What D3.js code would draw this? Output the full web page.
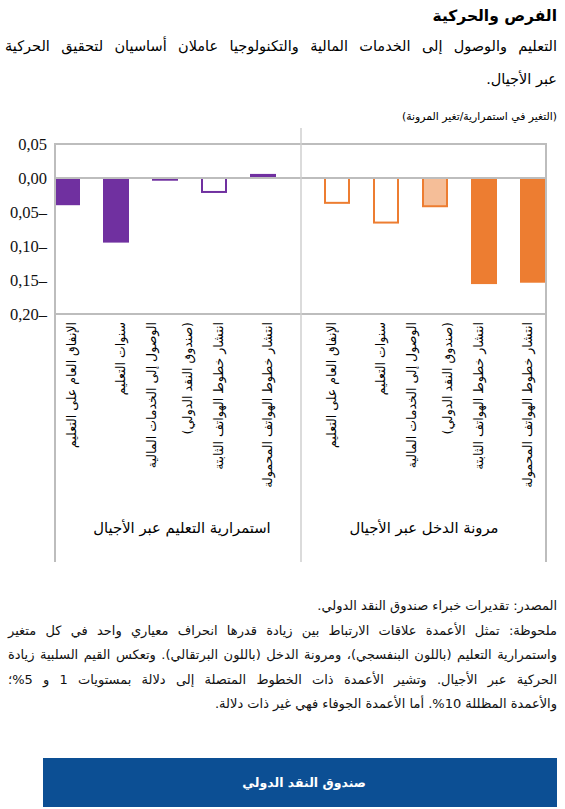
<!DOCTYPE html>
<html lang="ar">
<head>
<meta charset="utf-8">
<script src="https://cdn.jsdelivr.net/npm/d3@7"></script>
<style>
  body { margin: 0; background: #fff; }
  #wrap { position: relative; width: 565px; height: 809px; overflow: hidden; }
  svg { position: absolute; left: 0; top: 0; }
  .notes { position: absolute; left: 8px; width: 549px; direction: rtl;
           font-family: "DejaVu Sans", sans-serif; font-size: 13px; color: #111; }
  .notes div { height: 24.5px; line-height: 24.5px; white-space: nowrap; }
  .notes .just { text-align: justify; text-align-last: justify; white-space: normal; }
</style>
</head>
<body>
<div id="wrap"></div>
<script>
// chart values
const categories = [
  ["الإنفاق العام على التعليم"],
  ["سنوات التعليم"],
  ["الوصول إلى الخدمات المالية", "(صندوق النقد الدولي)"],
  ["انتشار خطوط الهواتف الثابتة"],
  ["انتشار خطوط الهواتف المحمولة"]
];
const panelTitles = ["استمرارية التعليم عبر الأجيال", "مرونة الدخل عبر الأجيال"];
const persistenceValues = [-0.040, -0.095, -0.004, -0.022, 0.006];
const persistenceSig = ["solid", "solid", "solid", "hollow", "solid"];
const elasticityValues = [-0.038, -0.067, -0.043, -0.156, -0.154];
const elasticitySig = ["hollow", "hollow", "shaded", "solid", "solid"];
const yTicks = [0.05, 0, -0.05, -0.10, -0.15, -0.20];

const title = "الفرص والحركية";
const subtitle = ["التعليم والوصول إلى الخدمات المالية والتكنولوجيا عاملان أساسيان لتحقيق الحركية",
                  "عبر الأجيال."];
const unitNote = "(التغير في استمرارية/تغير المرونة)";
const noteLines = [
  "المصدر: تقديرات خبراء صندوق النقد الدولي.",
  "ملحوظة: تمثل الأعمدة علاقات الارتباط بين زيادة قدرها انحراف معياري واحد في كل متغير",
  "واستمرارية التعليم (باللون البنفسجي)، ومرونة الدخل (باللون البرتقالي). وتعكس القيم السلبية زيادة",
  "الحركية عبر الأجيال. وتشير الأعمدة ذات الخطوط المتصلة إلى دلالة بمستويات 1 و 5%؛",
  "والأعمدة المظللة 10%. أما الأعمدة الجوفاء فهي غير ذات دلالة."
];
const footerText = "صندوق النقد الدولي";

const arabicFont = "'DejaVu Sans', sans-serif";
const numFont = "'Liberation Serif', serif";
const grey = "#bdbdbd";

const wrap = d3.select("#wrap");
const svg = wrap.append("svg").attr("width", 565).attr("height", 809);

// header texts
svg.append("text")
  .attr("x", 557).attr("y", 21)
  .attr("direction", "rtl").attr("text-anchor", "start")
  .attr("font-family", arabicFont).attr("font-size", 15.5).attr("font-weight", "bold")
  .text(title);

svg.selectAll("text.sub")
  .data(subtitle)
  .enter().append("text")
  .attr("class", "sub")
  .attr("x", 557).attr("y", (d, i) => 51 + i * 33)
  .attr("direction", "rtl").attr("text-anchor", "start")
  .attr("font-family", arabicFont).attr("font-size", 14.5)
  .text(d => d)
  .each(function(d, i) {
    // first line is justified to the full width
    if (i === 0) {
      const len = this.getComputedTextLength();
      const gaps = d.split(" ").length - 1;
      d3.select(this).attr("word-spacing", (552 - len) / gaps);
    }
  });

svg.append("text")
  .attr("x", 557).attr("y", 120)
  .attr("direction", "rtl").attr("text-anchor", "start")
  .attr("font-family", arabicFont).attr("font-size", 10.8)
  .text(unitNote);

// plot geometry
const plotLeft = 55, plotRight = 546, plotMid = 301, plotTop = 144, plotBottom = 314, frameEnd = 562;
const barW = 26;

const y = d3.scaleLinear().domain([-0.2, 0.05]).range([plotBottom, plotTop]);

const panels = [
  { values: persistenceValues, sig: persistenceSig, color: "#7030a0", light: "#c6a4dc",
    x: d3.scalePoint().domain(d3.range(5)).range([67, 263]), labelShift: 4, title: panelTitles[0], titleX: 182 },
  { values: elasticityValues, sig: elasticitySig, color: "#ed7d31", light: "#f5be98",
    x: d3.scalePoint().domain(d3.range(5)).range([337, 533]), labelShift: -6, title: panelTitles[1], titleX: 424 }
];

const plot = svg.append("g");

panels.forEach(function(p) {
  const rows = p.values.map((v, i) => ({ i: i, v: v, sig: p.sig[i] }));

  // Bars
  plot.selectAll(null)
    .data(rows)
    .enter().append("rect")
    .attr("x", d => p.x(d.i) - barW / 2 + (d.sig === "solid" ? 0 : 1))
    .attr("y", d => Math.min(y(d.v), y(0)) + (d.sig === "solid" ? 0 : (d.v < 0 ? 0 : 1)))
    .attr("width", d => d.sig === "solid" ? barW : barW - 2)
    .attr("height", d => Math.abs(y(d.v) - y(0)) - (d.sig === "solid" ? 0 : 1))
    .attr("fill", d => d.sig === "solid" ? p.color : (d.sig === "shaded" ? p.light : "#fff"))
    .attr("stroke", d => d.sig === "solid" ? "none" : p.color)
    .attr("stroke-width", 2);

  // category labels, rotated
  categories.forEach(function(lines, i) {
    lines.forEach(function(line, j) {
      const off = lines.length === 1 ? 0 : (j === 0 ? -18 : 18);
      const cx = p.x(i) + p.labelShift + off;
      svg.append("text")
        .attr("transform", "translate(" + cx + ",322) rotate(-90)")
        .attr("direction", "rtl").attr("text-anchor", "start")
        .attr("dominant-baseline", "central")
        .attr("font-family", arabicFont).attr("font-size", 12.5)
        .text(line);
    });
  });

  // panel title
  svg.append("text")
    .attr("x", p.titleX).attr("y", 533)
    .attr("text-anchor", "middle")
    .attr("font-family", arabicFont).attr("font-size", 14.8)
    .text(p.title);
});

// frame lines drawn over the bars
const frame = svg.append("g").attr("stroke", grey).attr("stroke-width", 2);
frame.append("line").attr("x1", plotLeft).attr("x2", plotRight).attr("y1", plotTop).attr("y2", plotTop);
frame.append("line").attr("x1", plotLeft).attr("x2", plotRight).attr("y1", y(0)).attr("y2", y(0));
frame.append("line").attr("x1", plotLeft).attr("x2", plotRight).attr("y1", plotBottom).attr("y2", plotBottom);
frame.append("line").attr("x1", plotLeft).attr("x2", plotLeft).attr("y1", plotTop - 1).attr("y2", frameEnd);
frame.append("line").attr("x1", plotRight).attr("x2", plotRight).attr("y1", plotTop - 1).attr("y2", frameEnd);
frame.append("line").attr("x1", plotMid).attr("x2", plotMid).attr("y1", 128).attr("y2", frameEnd)
  .attr("stroke", "#cfcfcf").attr("stroke-width", 1.5);

// Y axis
const yAxis = svg.append("g")
  .attr("transform", "translate(" + plotLeft + ",0)")
  .call(d3.axisLeft(y).tickValues(yTicks).tickSize(0).tickPadding(8)
    .tickFormat(d => Math.abs(d).toFixed(2).replace(".", ",") + (d < -1e-9 ? "–" : "")));
yAxis.select(".domain").remove();
yAxis.selectAll("text")
  .attr("font-family", numFont).attr("font-size", 16.5).attr("fill", "#111");

// notes
const notes = wrap.append("div").attr("class", "notes").style("top", "594px");
notes.selectAll("div")
  .data(noteLines)
  .enter().append("div")
  .attr("class", (d, i) => (i >= 1 && i <= 3) ? "just" : null)
  .text(d => d);

// footer band
svg.append("rect")
  .attr("x", 43).attr("y", 758).attr("width", 514).attr("height", 49)
  .attr("fill", "#0c4f94");
svg.append("text")
  .attr("x", 304).attr("y", 787)
  .attr("text-anchor", "middle")
  .attr("font-family", arabicFont).attr("font-size", 12.5).attr("font-weight", "bold")
  .attr("fill", "#fff")
  .text(footerText);
</script>
</body>
</html>
